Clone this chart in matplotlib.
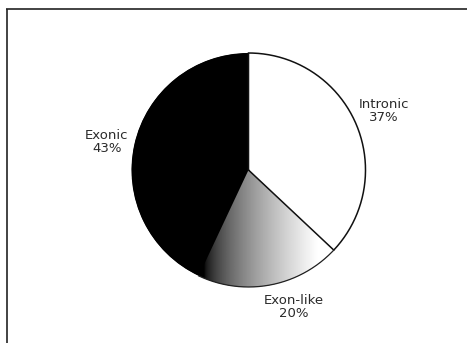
import numpy as np
import matplotlib
matplotlib.use("Agg")
import matplotlib.pyplot as plt
from matplotlib.patches import Circle

# Share of sequences by genomic location
categories = ["Intronic", "Exon-like", "Exonic"]
shares = [37, 20, 43]
pct_labels = ["37%", "20%", "43%"]

W, H = 467, 343
fig = plt.figure(figsize=(W / 100, H / 100), dpi=100)
ax = fig.add_axes([0, 0, 1, 1])

cx, cy, r = 248.5, H - 170, 117

# Exon-like wedge is filled black underneath, the gradient goes on top of it
wedges, _ = ax.pie(
    shares,
    startangle=90,
    counterclock=False,
    center=(cx, cy),
    radius=r,
    colors=["white", "black", "black"],
    wedgeprops=dict(linewidth=0),
    frame=True,
)
ax.set_xlim(0, W)
ax.set_ylim(0, H)
ax.set_aspect("equal")
ax.axis("off")

# Solid black disc beneath the wedges so no seam shows between dark slices
ax.add_patch(Circle((cx, cy), r - 0.3, color="black", lw=0, zorder=0.4))

# Horizontal black-to-white gradient clipped to the Exon-like wedge
grad_wedge = wedges[1]
t1, t2 = np.deg2rad(grad_wedge.theta1), np.deg2rad(grad_wedge.theta2)
angs = np.linspace(t1, t2, 200)
ys = np.concatenate([[cy], cy + r * np.sin(angs)])
gx0, gx1 = 204, 318
gradient = (np.linspace(0, 1, 256) ** 0.6).reshape(1, -1)
img = ax.imshow(gradient, cmap="gray", vmin=0, vmax=1, aspect="auto",
                extent=(gx0, gx1, ys.min(), ys.max()),
                interpolation="bilinear", zorder=1)
img.set_clip_path(grad_wedge)
right_fill = ax.fill_between([gx1, 360], ys.min(), ys.max(), color="white",
                             lw=0, zorder=0.9)
right_fill.set_clip_path(grad_wedge)

for w in wedges:
    w.set_zorder(0.5)

# Outlines: Intronic wedge fully, Exon-like along its outer arc
wi = wedges[0]
ti1, ti2 = np.deg2rad(wi.theta1), np.deg2rad(wi.theta2)
a = np.linspace(ti1, ti2, 200)
ax.plot(np.concatenate([[cx], cx + r * np.cos(a), [cx]]),
        np.concatenate([[cy], cy + r * np.sin(a), [cy]]),
        color="#111111", lw=1.1, zorder=3, solid_joinstyle="miter")
ax.plot(cx + r * np.cos(angs), cy + r * np.sin(angs),
        color="#222222", lw=0.9, zorder=3)

# Labels
label_pos = {"Intronic": (384, H - 111), "Exon-like": (294, H - 307), "Exonic": (107, H - 142)}
for name, pct in zip(categories, pct_labels):
    x, y = label_pos[name]
    ax.text(x, y, f"{name}\n{pct}", ha="center", va="center", fontsize=9.5,
            color="#2a2a2a", family="DejaVu Sans", linespacing=1.08)

# Outer frame
ax.plot([7, 7], [0, H - 9], color="#222222", lw=1.2, solid_capstyle="butt")
ax.plot([6.4, W], [H - 9, H - 9], color="#222222", lw=1.2, solid_capstyle="butt")

fig.savefig("out.png", dpi=100)
